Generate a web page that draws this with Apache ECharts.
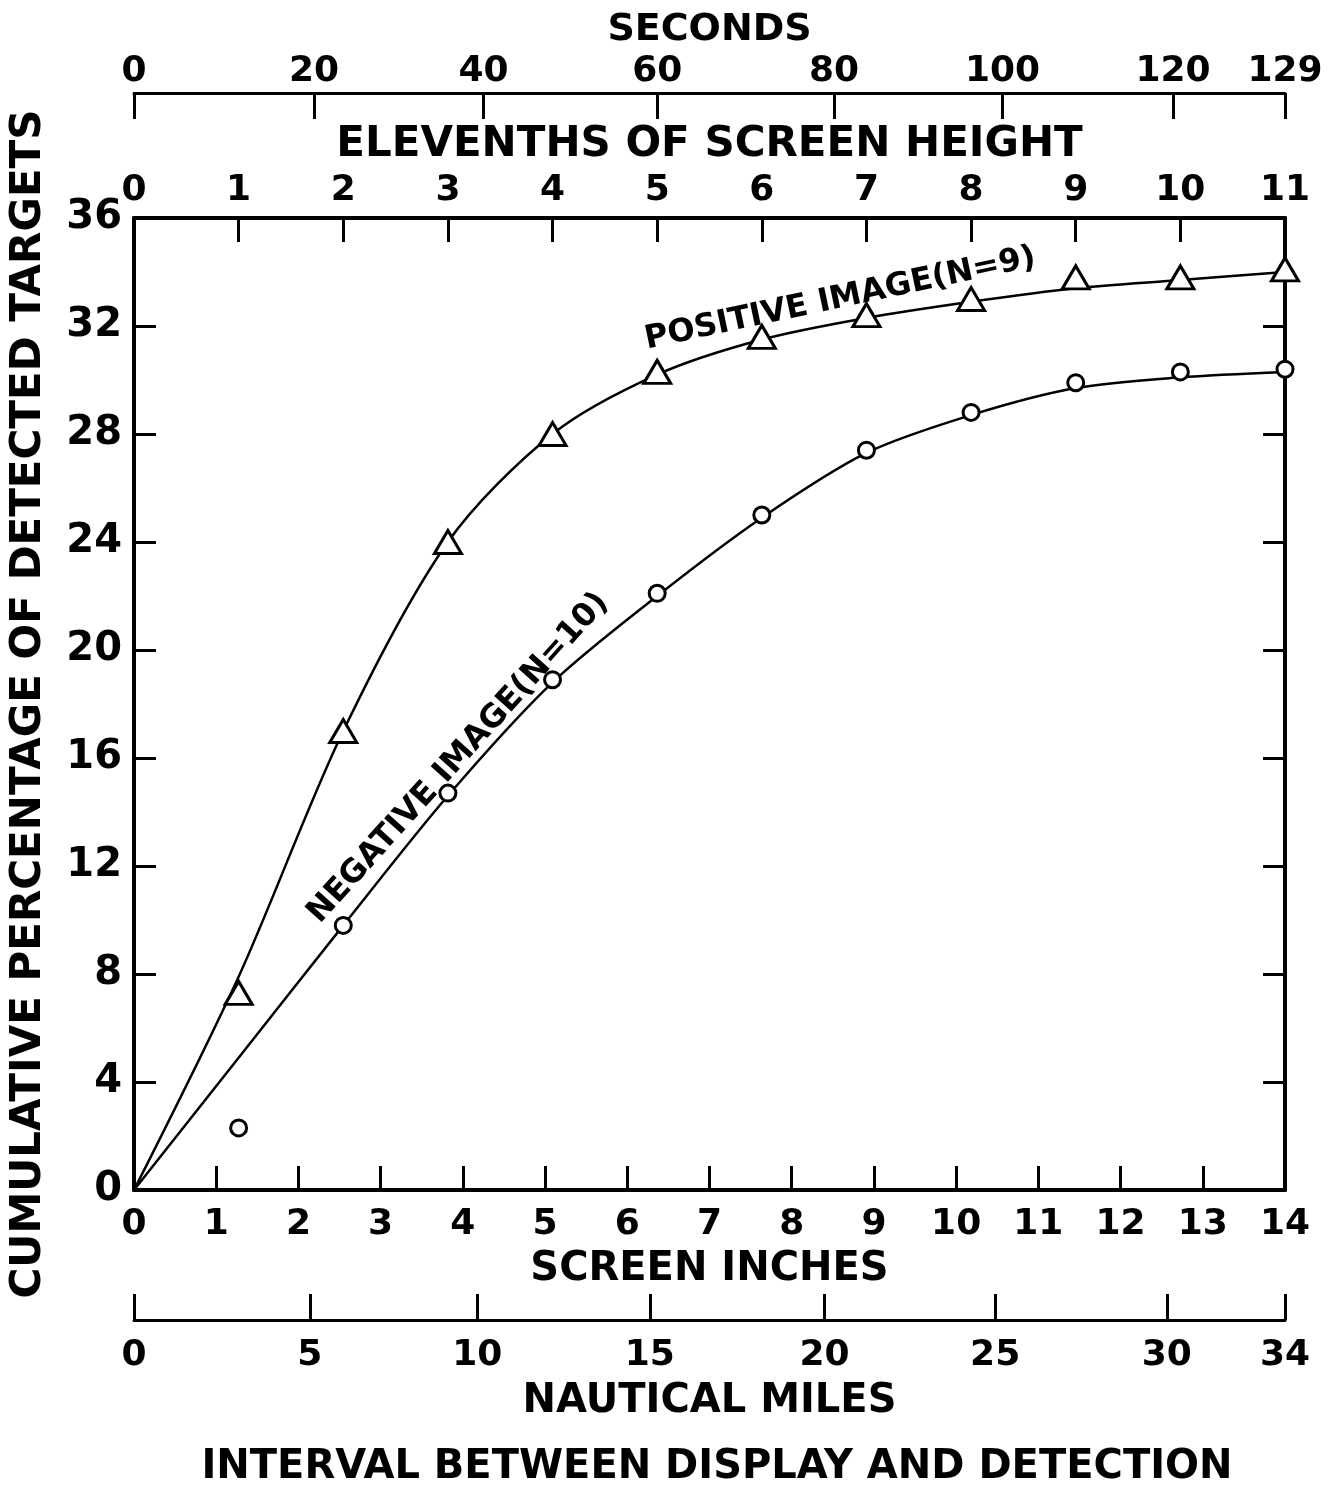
<!DOCTYPE html>
<html><head><meta charset="utf-8">
<script src="https://cdn.jsdelivr.net/npm/echarts@6/dist/echarts.min.js"></script>
<style>html,body{margin:0;padding:0;background:#fff}#c{width:1340px;height:1489px}</style>
</head><body><div id="c"></div>
<script>
// ---- data (x in elevenths of screen height, y in %) ----
const CURVE_X = [0, 1, 2, 3, 4, 5, 6, 7, 8, 9, 10, 11];
const POSITIVE_CURVE = [0, 7.9, 17.0, 24.0, 28.0, 30.2, 31.5, 32.3, 32.9, 33.4, 33.7, 34.0];
const NEGATIVE_CURVE = [0, 4.9, 9.8, 14.6, 18.8, 22.0, 24.9, 27.3, 28.7, 29.7, 30.1, 30.3];
const MARKER_X = [1, 2, 3, 4, 5, 6, 7, 8, 9, 10, 11];
const POSITIVE_POINTS = [7.3, 17.0, 24.0, 28.0, 30.3, 31.6, 32.4, 33.0, 33.8, 33.8, 34.1];
const NEGATIVE_POINTS = [2.3, 9.8, 14.7, 18.9, 22.1, 25.0, 27.4, 28.8, 29.9, 30.3, 30.4];
// secondary scales: tick labels and where each falls on the elevenths scale
const SECONDS_LABELS = [0, 20, 40, 60, 80, 100, 120, 129];
const SECONDS_ON_ELEVENTHS = [0, 1.72, 3.34, 5.0, 6.69, 8.30, 9.93, 11];
const MILES_LABELS = [0, 5, 10, 15, 20, 25, 30, 34];
const MILES_ON_ELEVENTHS = [0, 1.68, 3.28, 4.93, 6.60, 8.23, 9.87, 11];
const Y_TICKS = { min: 0, max: 36, interval: 4 };
const INCH_TICKS = { min: 0, max: 14, interval: 1 };

const FF = "'DejaVu Sans','Liberation Sans',sans-serif";
const INK = '#000';

function lookup(vals, labels) {
  return function (v) {
    let bi = 0, bd = Infinity;
    vals.forEach((p, i) => { const d = Math.abs(p - v); if (d < bd) { bd = d; bi = i; } });
    return String(labels[bi]);
  };
}
function txt(size) { return { color: INK, fontFamily: FF, fontWeight: 'bold', fontSize: size }; }

const chart = echarts.init(document.getElementById('c'), null, { renderer: 'canvas' });

const baseX = (extra) => Object.assign({
  type: 'value',
  axisLine: { show: true, onZero: false, lineStyle: { color: INK, width: 4 } },
  axisTick: { show: true, inside: true, length: 24, lineStyle: { color: INK, width: 3 } },
  splitLine: { show: false },
  nameLocation: 'middle'
}, extra);

chart.setOption({
  animation: false,
  backgroundColor: '#fff',
  grid: { left: 131, right: 55, top: 218, bottom: 299 },
  xAxis: [
    baseX({
      position: 'top', min: 0, max: 11, interval: 1,
      axisLabel: Object.assign({ margin: 9, showMinLabel: true, showMaxLabel: true }, txt(36)),
      name: 'ELEVENTHS OF SCREEN HEIGHT', nameGap: 52, nameTextStyle: txt(42)
    }),
    baseX({
      position: 'bottom', min: INCH_TICKS.min, max: INCH_TICKS.max, interval: INCH_TICKS.interval,
      axisLabel: Object.assign({ margin: 17, showMinLabel: true, showMaxLabel: true }, txt(36)),
      name: 'SCREEN INCHES', nameGap: 60, nameTextStyle: txt(40)
    }),
    baseX({
      position: 'top', offset: 125, min: 0, max: 11,
      axisLine: { show: true, onZero: false, lineStyle: { color: INK, width: 3 } },
      axisTick: { show: true, inside: true, length: 26, customValues: SECONDS_ON_ELEVENTHS, lineStyle: { color: INK, width: 3 } },
      axisLabel: Object.assign({ margin: 3, customValues: SECONDS_ON_ELEVENTHS, formatter: lookup(SECONDS_ON_ELEVENTHS, SECONDS_LABELS), showMinLabel: true, showMaxLabel: true }, txt(36)),
      name: 'SECONDS', nameGap: 44, nameTextStyle: txt(38)
    }),
    baseX({
      position: 'bottom', offset: 130, min: 0, max: 11,
      axisLine: { show: true, onZero: false, lineStyle: { color: INK, width: 3 } },
      axisTick: { show: true, inside: true, length: 26, customValues: MILES_ON_ELEVENTHS, lineStyle: { color: INK, width: 3 } },
      axisLabel: Object.assign({ margin: 18, customValues: MILES_ON_ELEVENTHS, formatter: lookup(MILES_ON_ELEVENTHS, MILES_LABELS), showMinLabel: true, showMaxLabel: true }, txt(36)),
      name: 'NAUTICAL MILES', nameGap: 62, nameTextStyle: txt(40)
    })
  ],
  yAxis: [
    {
      type: 'value', position: 'left', min: Y_TICKS.min, max: Y_TICKS.max, interval: Y_TICKS.interval,
      axisLine: { show: true, onZero: false, lineStyle: { color: INK, width: 4 } },
      axisTick: { show: true, inside: true, length: 22, lineStyle: { color: INK, width: 3 } },
      axisLabel: Object.assign({ margin: 12, showMinLabel: true, showMaxLabel: true }, txt(40)),
      splitLine: { show: false },
      name: 'CUMULATIVE PERCENTAGE OF DETECTED TARGETS', nameLocation: 'middle', nameGap: 84,
      nameTextStyle: txt(42)
    },
    {
      type: 'value', position: 'right', min: Y_TICKS.min, max: Y_TICKS.max, interval: Y_TICKS.interval,
      axisLine: { show: true, onZero: false, lineStyle: { color: INK, width: 4 } },
      axisTick: { show: true, inside: true, length: 22, lineStyle: { color: INK, width: 3 } },
      axisLabel: { show: false },
      splitLine: { show: false }
    }
  ],
  series: [
    {
      name: 'Positive image curve', type: 'line', xAxisIndex: 0, yAxisIndex: 0,
      data: CURVE_X.map((x, i) => [x, POSITIVE_CURVE[i]]),
      smooth: 0.3, symbol: 'none', lineStyle: { color: INK, width: 2.5 }, z: 2
    },
    {
      name: 'Negative image curve', type: 'line', xAxisIndex: 0, yAxisIndex: 0,
      data: CURVE_X.map((x, i) => [x, NEGATIVE_CURVE[i]]),
      smooth: 0.3, symbol: 'none', lineStyle: { color: INK, width: 2.5 }, z: 2
    },
    {
      name: 'Positive image (N=9)', type: 'scatter', xAxisIndex: 0, yAxisIndex: 0,
      data: MARKER_X.map((x, i) => [x, POSITIVE_POINTS[i]]),
      symbol: 'triangle', symbolSize: [27, 23],
      itemStyle: { color: '#fff', borderColor: INK, borderWidth: 3, opacity: 1 }, z: 4
    },
    {
      name: 'Negative image (N=10)', type: 'scatter', xAxisIndex: 0, yAxisIndex: 0,
      data: MARKER_X.map((x, i) => [x, NEGATIVE_POINTS[i]]),
      symbol: 'circle', symbolSize: 16,
      itemStyle: { color: '#fff', borderColor: INK, borderWidth: 3, opacity: 1 }, z: 4
    }
  ]
});

// annotations anchored in data coordinates
const posAnchor = chart.convertToPixel({ xAxisIndex: 0, yAxisIndex: 0 }, [6.75, 33.0]);
const negAnchor = chart.convertToPixel({ xAxisIndex: 0, yAxisIndex: 0 }, [3.1, 16.0]);
chart.setOption({
  graphic: [
    { type: 'text', x: posAnchor[0], y: posAnchor[1], rotation: 12 * Math.PI / 180,
      style: { text: 'POSITIVE IMAGE(N=9)', fill: INK, fontFamily: FF, fontWeight: 'bold', fontSize: 32, align: 'center', verticalAlign: 'middle' } },
    { type: 'text', x: negAnchor[0], y: negAnchor[1], rotation: 48 * Math.PI / 180,
      style: { text: 'NEGATIVE IMAGE(N=10)', fill: INK, fontFamily: FF, fontWeight: 'bold', fontSize: 32, align: 'center', verticalAlign: 'middle' } },
    { type: 'text', x: 717, y: 1468,
      style: { text: 'INTERVAL BETWEEN DISPLAY AND DETECTION', fill: INK, fontFamily: FF, fontWeight: 'bold', fontSize: 40, align: 'center', verticalAlign: 'middle' } }
  ]
});
</script></body></html>
